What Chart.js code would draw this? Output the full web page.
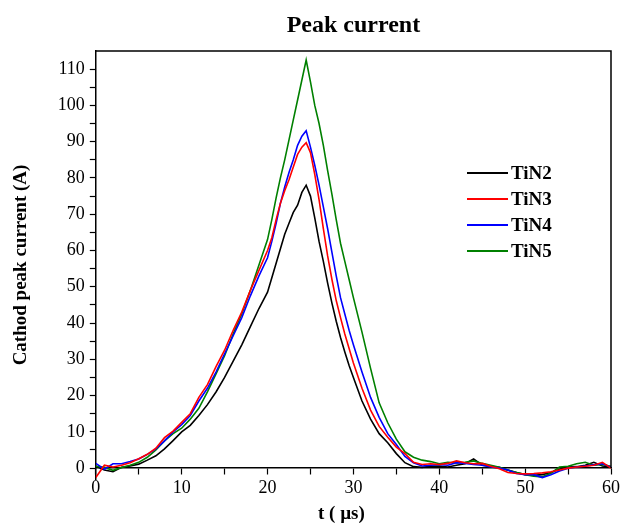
<!DOCTYPE html>
<html>
<head>
<meta charset="utf-8">
<script src="https://cdn.jsdelivr.net/npm/chart.js@4.4.1/dist/chart.umd.min.js"></script>
<style>
  html, body { margin: 0; padding: 0; background: #fff; }
  #wrap { width: 623px; height: 527px; }
</style>
</head>
<body>
<div id="wrap"><canvas id="peakCurrent"></canvas></div>
<script>
// time axis (µs), finer around the peak
var times = [0, 1, 2, 3, 4, 5, 6, 7, 8, 9, 10, 11, 12, 13, 14, 15, 16, 17, 18, 19, 20,
  20.5, 21, 21.5, 22, 22.5, 23, 23.5, 24, 24.5, 25, 25.5, 26, 26.5, 27, 27.5, 28, 28.5, 29, 29.5, 30,
  31, 32, 33, 34, 35, 36, 37, 38, 39, 40, 41, 42, 43, 44, 45, 46, 47, 48, 49, 50,
  51, 52, 53, 54, 55, 56, 57, 58, 59, 60];

var tin2 = [0.5, -0.5, -1, 0.2, 0.6, 1.1, 2.2, 3.4, 5.3, 7.6, 10, 11.8, 14.5, 17.5, 21, 25, 29.5, 34, 39, 44, 48.5,
  52.5, 56.5, 60.5, 64.5, 67.5, 70.5, 72.5, 76, 78, 75, 69, 62.5, 57, 51, 45.5, 40.5, 36, 32, 28.3, 25,
  18.5, 13.5, 9.5, 7, 4, 1.5, 0.4, 0.2, 0.5, 0.6, 0.3, 0.8, 1.2, 2.5, 0.8, 0.5, 0.2, -0.6, -1.2, -1.8,
  -2, -1.8, -1.2, -0.3, 0.3, 0.4, 0.8, 1.6, 0.6, 0.3];

var tin3 = [-2.6, 0.8, 0.3, 0.8, 1.5, 2.6, 3.8, 5.5, 8.4, 10.2, 12.6, 15, 19.5, 23, 28, 32.5, 38, 43, 49, 54.5, 60,
  63.5, 68.5, 73, 76.5, 79.5, 83, 86.5, 88.5, 89.7, 87, 81, 74, 66, 58.5, 52, 46.2, 41.5, 37, 33, 29,
  22, 16, 11.5, 8.5, 5.8, 4, 1.6, 1, 1.2, 1, 1.3, 2, 1.5, 1.2, 1.3, 0.5, -0.2, -1.2, -1.5, -1.6,
  -1.5, -1.3, -1, -0.5, 0, 0.3, 0.5, 0.8, 1.6, 0];

var tin4 = [1.3, -0.3, 1.2, 1.2, 1.8, 2.5, 3.8, 5.3, 7.5, 10, 12, 14.5, 18.5, 22, 26.5, 31.5, 36.5, 41.5, 47.5, 53, 58,
  62.5, 67.5, 73, 77.5, 81.5, 85, 89, 91.5, 93, 88.5, 83.5, 78, 72, 66, 59.5, 53, 47, 42.5, 38, 34,
  26.5, 19.5, 14, 9.5, 6.5, 3.2, 1.5, 0.6, 0.8, 1, 0.8, 1.5, 1.3, 1, 0.8, 0.3, 0, -0.5, -1.5, -1.8,
  -1.8, -2.6, -1.8, -0.8, 0, 0.3, 0.6, 0.9, 1.2, 0.3];

var tin5 = [0.5, 0.2, -0.6, 0.2, 0.8, 1.6, 3, 5, 7.5, 9.5, 11, 13.5, 16.5, 21, 26, 31, 37, 42.5, 49, 56, 63,
  68.5, 74.5, 80, 85, 90.5, 96, 101.5, 107, 112.5, 106.5, 100, 95, 89, 82, 75.5, 68.5, 62, 57, 52, 47,
  37.5, 27.5, 18, 12.5, 8, 4.5, 3, 2.2, 1.8, 1.2, 1.6, 1.4, 1.6, 2, 1.3, 0.8, 0.2, -0.5, -1.2, -1.8,
  -2.2, -2.4, -1.4, 0.3, 0.5, 1.2, 1.6, 0.8, 1, 0.5];

var seriesNames = ['TiN2', 'TiN3', 'TiN4', 'TiN5'];
var seriesColors = ['#000000', '#ff0000', '#0000ff', '#008000'];
var xTicks = [0, 5, 10, 15, 20, 25, 30, 35, 40, 45, 50, 55, 60];
var yTicks = [0, 5, 10, 15, 20, 25, 30, 35, 40, 45, 50, 55, 60, 65, 70, 75, 80, 85, 90, 95, 100, 105, 110];

var serif = '"Liberation Serif", "Times New Roman", serif';

function toPoints(vals) {
  var pts = [];
  for (var i in times) {
    pts.push({x: times[i], y: vals[i]});
  }
  return pts;
}

// title, x title, top/right frame and the inset legend
var framePlugin = {
  id: 'frame',
  afterDraw: function(chart) {
    var c = chart.ctx;
    var a = chart.chartArea;
    var zeroY = chart.scales.y.getPixelForValue(0);
    var midX = (a.left + a.right) / 2;
    c.save();
    c.strokeStyle = '#000';
    c.lineWidth = 1.5;
    c.beginPath();
    c.moveTo(a.left, a.top);
    c.lineTo(a.right, a.top);
    c.lineTo(a.right, zeroY);
    c.stroke();

    c.fillStyle = '#000';
    c.textAlign = 'center';
    c.textBaseline = 'middle';
    c.font = 'bold 24px ' + serif;
    c.fillText('Peak current', midX, 26);
    c.font = 'bold 19px ' + serif;
    c.fillText('t ( µs)', midX - 12, 514);

    c.font = 'bold 19px ' + serif;
    c.textAlign = 'left';
    for (var i = 0; i < seriesNames.length; i++) {
      var ly = 173 + i * 26;
      c.strokeStyle = seriesColors[i];
      c.lineWidth = 2;
      c.beginPath();
      c.moveTo(467, ly);
      c.lineTo(508, ly);
      c.stroke();
      c.fillText(seriesNames[i], 511, ly + 1);
    }
    c.restore();
  }
};

var datasets = [];
var drawOrder = [3, 0, 1, 2];
for (var i = 0; i < seriesNames.length; i++) {
  datasets.push({
    label: seriesNames[i],
    data: toPoints([tin2, tin3, tin4, tin5][i]),
    borderColor: seriesColors[i],
    borderWidth: 1.6,
    pointRadius: 0,
    fill: false,
    tension: 0,
    order: drawOrder[i]
  });
}

var ctx = document.getElementById('peakCurrent');
var peakChart = new Chart(ctx, {
  type: 'line',
  data: { datasets: datasets },
  options: {
    responsive: true,
    maintainAspectRatio: false,
    animation: false,
    layout: { padding: { top: 51, right: 0, left: 10, bottom: 48 } },
    plugins: {
      legend: { display: false },
      title: { display: false },
      tooltip: { enabled: false }
    },
    scales: {
      x: {
        type: 'linear',
        min: 0,
        max: 60,
        position: { y: 0 },
        border: { color: '#000', width: 1.5 },
        grid: { drawOnChartArea: false, tickLength: 6, tickColor: '#000', tickWidth: 1.2 },
        afterBuildTicks: function(axis) {
          axis.ticks = xTicks.map(function(v) { return {value: v}; });
        },
        ticks: {
          autoSkip: false,
          maxRotation: 0,
          color: '#000',
          padding: 3,
          font: { family: serif, size: 18 },
          callback: function(v) { return v % 10 === 0 ? v : ''; }
        }
      },
      y: {
        min: -3,
        max: 115,
        border: { color: '#000', width: 1.5 },
        grid: { drawOnChartArea: false, tickLength: 6, tickColor: '#000', tickWidth: 1.2 },
        afterBuildTicks: function(axis) {
          axis.ticks = yTicks.map(function(v) { return {value: v}; });
        },
        ticks: {
          autoSkip: false,
          color: '#000',
          padding: 5,
          font: { family: serif, size: 18 },
          callback: function(v) { return v % 10 === 0 ? v : ''; }
        },
        title: {
          display: true,
          text: 'Cathod peak current (A)',
          color: '#000',
          font: { family: serif, size: 19, weight: 'bold' },
          padding: { top: 0, bottom: 20 }
        }
      }
    }
  },
  plugins: [framePlugin]
});
</script>
</body>
</html>
